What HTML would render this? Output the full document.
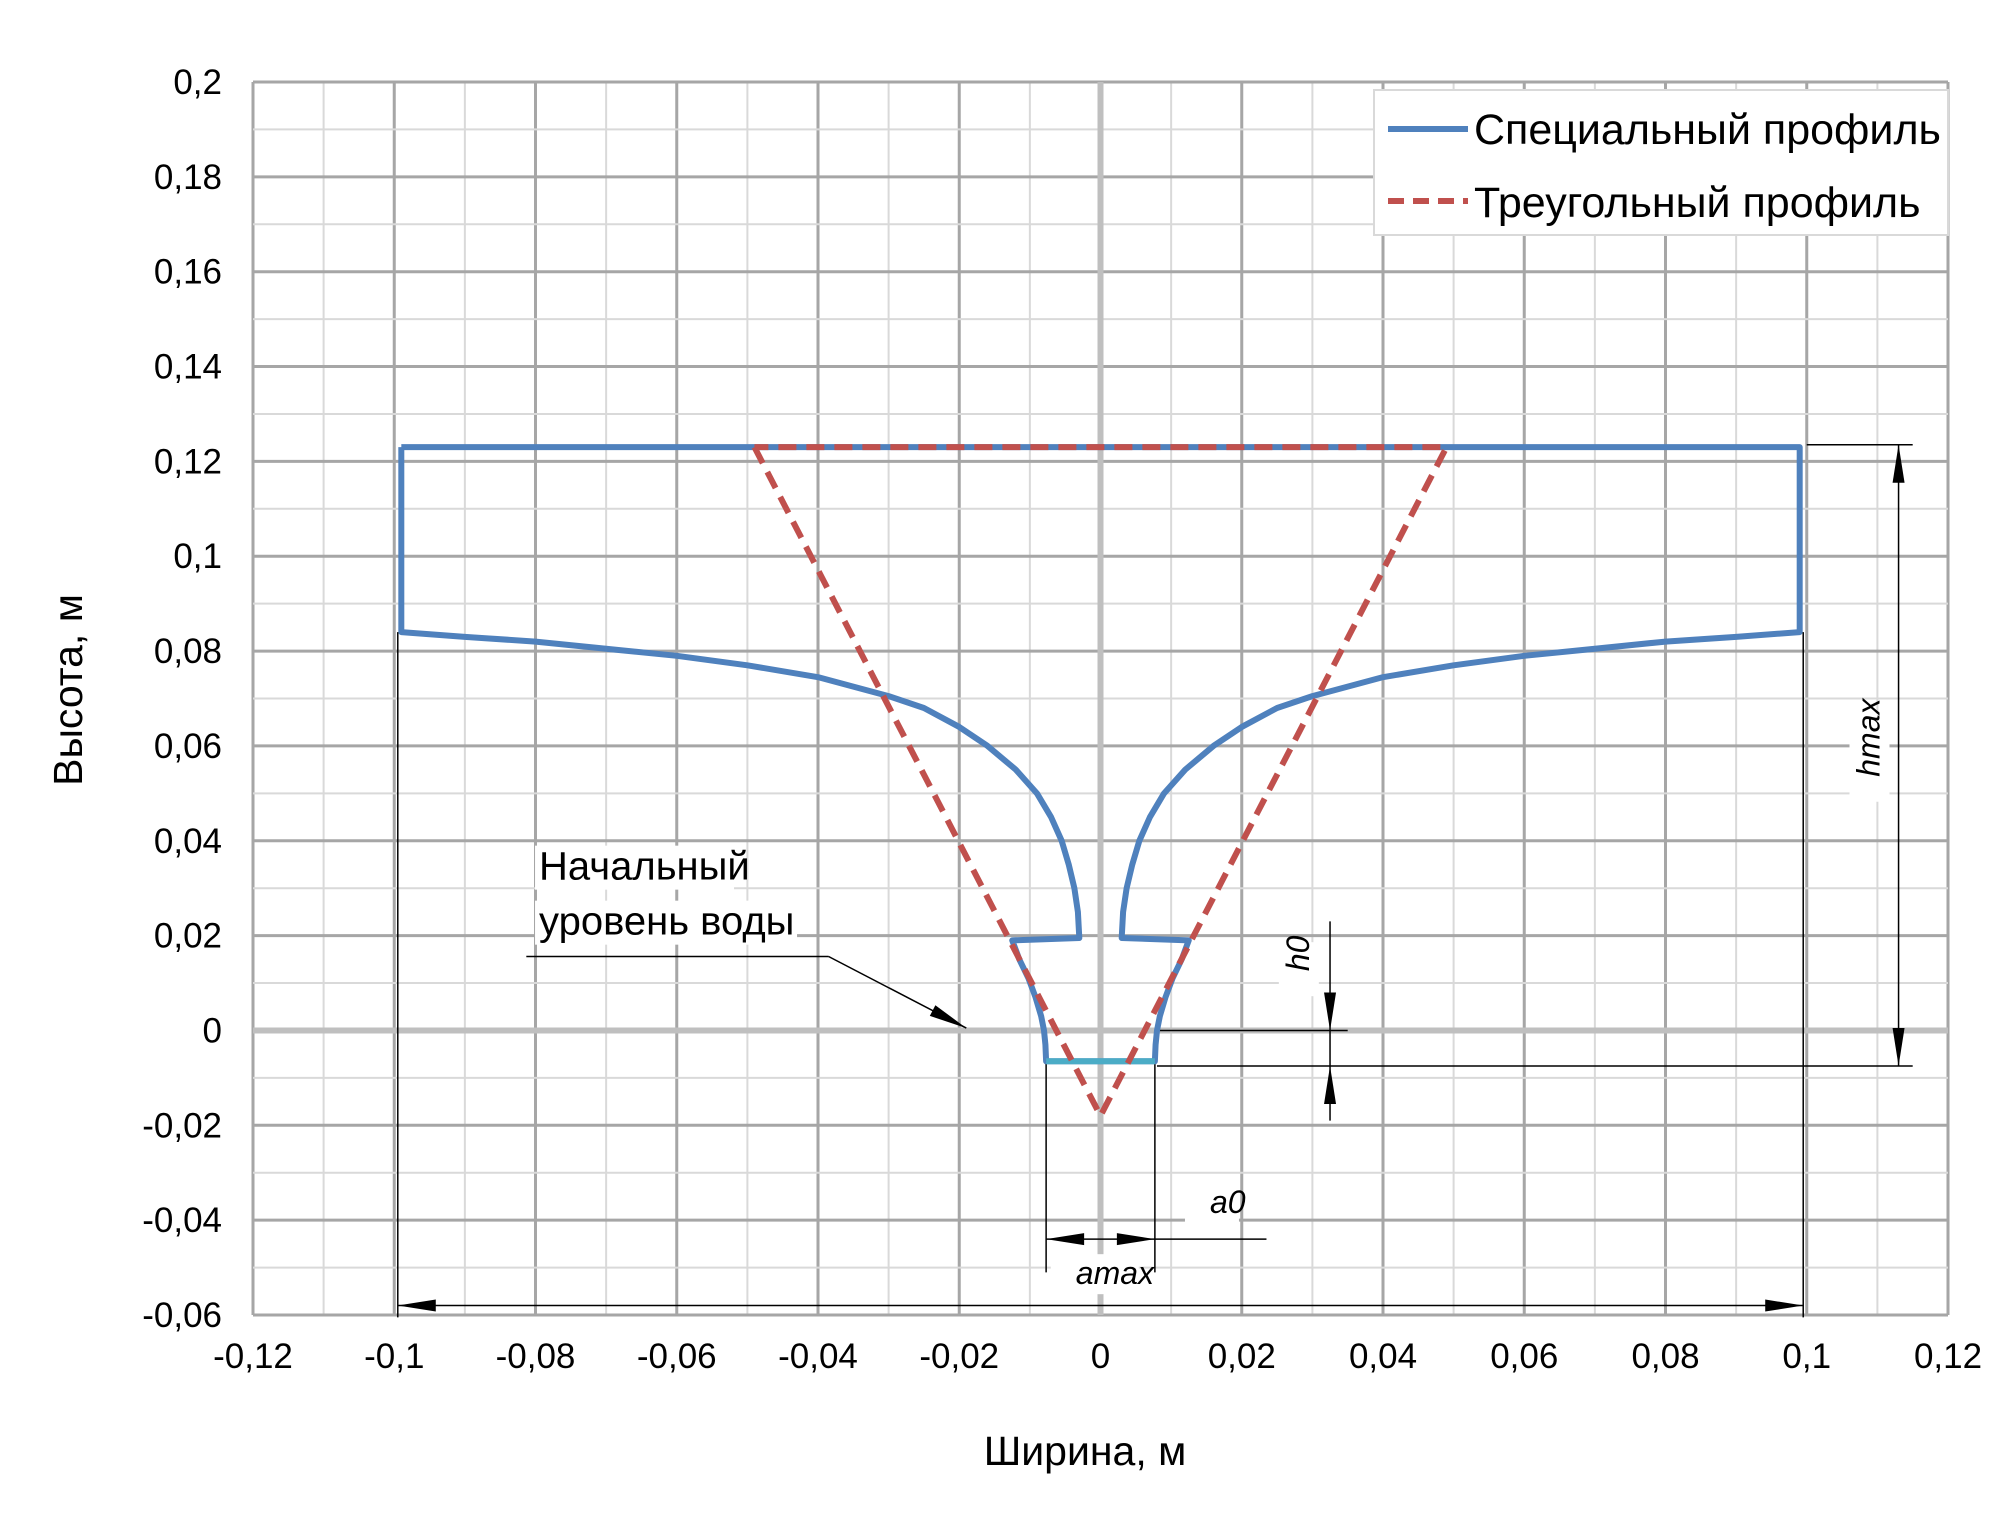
<!DOCTYPE html>
<html><head><meta charset="utf-8"><style>
body{margin:0;background:#fff}
svg{display:block;font-family:"Liberation Sans",sans-serif}
</style></head><body>
<svg id="c" width="2000" height="1530" viewBox="0 0 2000 1530"></svg>
<script>
const xTicks=[-0.12,-0.1,-0.08,-0.06,-0.04,-0.02,0,0.02,0.04,0.06,0.08,0.1,0.12];
const yTicks=[-0.06,-0.04,-0.02,0,0.02,0.04,0.06,0.08,0.1,0.12,0.14,0.16,0.18,0.2];
const specialLeftX=[-0.0077,-0.0078,-0.008,-0.0084,-0.0092,-0.0102,-0.0115,-0.0125,-0.003,-0.0032,-0.0037,-0.0045,-0.0055,-0.007,-0.009,-0.012,-0.016,-0.02,-0.025,-0.03,-0.04,-0.05,-0.06,-0.07,-0.08,-0.09,-0.099,-0.099];
const specialLeftY=[-0.0065,-0.003,0,0.003,0.007,0.011,0.015,0.019,0.0195,0.025,0.030,0.035,0.040,0.045,0.050,0.055,0.060,0.064,0.068,0.0705,0.0745,0.077,0.079,0.0805,0.082,0.083,0.084,0.123];
const triX=[-0.049,0,0.049,-0.049];
const triY=[0.123,-0.018,0.123,0.123];
const waterX=[-0.0077,0.0077];
const waterY=[-0.0065,-0.0065];
const L=253,R=1948,T=82,B=1315;
const X=v=>L+(v+0.12)/0.24*(R-L);
const Y=v=>B-(v+0.06)/0.26*(B-T);
const svg=document.getElementById('c');
const NS='http://www.w3.org/2000/svg';
function mk(tag,a,parent){const e=document.createElementNS(NS,tag);for(const k in a)e.setAttribute(k,a[k]);(parent||svg).appendChild(e);return e;}
for(let i=0;i<=24;i++){const v=-0.12+i*0.01;const e=mk('line',{x1:X(v),x2:X(v),y1:T,y2:B,stroke:i%2?'#d9d9d9':'#a6a6a6','stroke-width':i%2?2:3});

}
for(let i=0;i<=26;i++){const v=-0.06+i*0.01;const e=mk('line',{x1:L,x2:R,y1:Y(v),y2:Y(v),stroke:i%2?'#d9d9d9':'#a6a6a6','stroke-width':i%2?2:3});

}
mk('line',{x1:X(0),x2:X(0),y1:T,y2:B,stroke:'#bfbfbf','stroke-width':6});
mk('line',{x1:L,x2:R,y1:Y(0),y2:Y(0),stroke:'#bfbfbf','stroke-width':6});
xTicks.forEach(v=>{const t=mk('text',{x:X(v),y:B+53,'text-anchor':'middle','font-size':35});t.textContent=String(+v.toFixed(2)).replace('.',',');

});
yTicks.forEach(v=>{const t=mk('text',{x:222,y:Y(v)+12,'text-anchor':'end','font-size':35});t.textContent=String(+v.toFixed(2)).replace('.',',');

});
let t=mk('text',{x:1085,y:1465,'text-anchor':'middle','font-size':41});t.textContent='Ширина, м';


t=mk('text',{x:0,y:0,'text-anchor':'middle','font-size':41,transform:'translate(82,690) rotate(-90)'});t.textContent='Высота, м';


const th={stroke:'#000','stroke-width':1.5,fill:'none'};
function ln(x1,y1,x2,y2){return mk('line',Object.assign({x1:X(x1),y1:Y(y1),x2:X(x2),y2:Y(y2)},th));}
function arrow(x,y,dx,dy){const px=X(x),py=Y(y),l=38,w=6;const a=[px,py,px-dx*l-dy*w,py-dy*l+dx*w,px-dx*l+dy*w,py-dy*l-dx*w];mk('polygon',{points:a.join(' '),fill:'#000'});}
ln(-0.0995,0.084,-0.0995,-0.0605);ln(0.0995,0.084,0.0995,-0.0605);
ln(-0.0995,-0.058,0.0995,-0.058);arrow(-0.0995,-0.058,-1,0);arrow(0.0995,-0.058,1,0);
ln(-0.0077,-0.0065,-0.0077,-0.051);ln(0.0077,-0.0065,0.0077,-0.051);
ln(-0.0077,-0.044,0.0235,-0.044);arrow(-0.0077,-0.044,-1,0);arrow(0.0077,-0.044,1,0);
ln(0.1,0.1235,0.115,0.1235);ln(0.008,-0.0075,0.115,-0.0075);
ln(0.113,0.1235,0.113,-0.0075);arrow(0.113,0.1235,0,-1);arrow(0.113,-0.0075,0,1);
ln(0.008,0,0.035,0);ln(0.0325,0.023,0.0325,-0.019);arrow(0.0325,0,0,1);arrow(0.0325,-0.0075,0,-1);
ln(-0.0813,0.0156,-0.0385,0.0156);ln(-0.0385,0.0156,-0.019,0.0005);
{const px=X(-0.019),py=Y(0.0005);const dx=X(-0.019)-X(-0.0385),dy=Y(0.0005)-Y(0.0156);const n=Math.hypot(dx,dy);const ux=dx/n,uy=dy/n;mk('polygon',{points:[px,py,px-ux*38-uy*6,py-uy*38+ux*6,px-ux*38+uy*6,py-uy*38-ux*6].join(' '),fill:'#000'});}
const lab=[['Начальный',X(-0.0795),Y(0.0318)],['уровень воды',X(-0.0795),Y(0.0202)]];
lab.forEach(l=>{mk('rect',{x:l[1]-4,y:l[2]-34,width:l[0].length*21+10,height:44,fill:'#fff'});const e=mk('text',{x:l[1],y:l[2],'font-size':40});e.textContent=l[0];

});
function itxt(s,x,y,rot){mk('rect',{x:x-25,y:y-30,width:s.length*17+20,height:40,fill:'#fff',transform:rot?`rotate(-90 ${x} ${y})`:''});const e=mk('text',{x:x,y:y,'font-size':32,'font-style':'italic',transform:rot?`rotate(-90 ${x} ${y})`:''});e.textContent=s;

}
itxt('amax',X(-0.0035),Y(-0.0535));
itxt('a0',X(0.0155),Y(-0.0385));
itxt('h0',X(0.0295),Y(0.0125),true);
itxt('hmax',X(0.1103),Y(0.0535),true);
const revX=specialLeftX.slice().reverse(),revY=specialLeftY.slice().reverse();
const spX=revX.concat(specialLeftX.map(v=>-v)).concat([revX[0]]);
const spY=revY.concat(specialLeftY).concat([revY[0]]);
let p=mk('polyline',{points:spX.map((v,i)=>X(v)+','+Y(spY[i])).join(' '),fill:'none',stroke:'#4f81bd','stroke-width':6,'stroke-linejoin':'round'});


p=mk('polyline',{points:waterX.map((v,i)=>X(v)+','+Y(waterY[i])).join(' '),stroke:'#4bacc6','stroke-width':6});


p=mk('polyline',{points:triX.map((v,i)=>X(v)+','+Y(triY[i])).join(' '),fill:'none',stroke:'#c0504d','stroke-width':6,'stroke-dasharray':'18 10'});


const g=mk('g',{});
mk('rect',{x:1374,y:90,width:574,height:145,fill:'#fff',stroke:'#d9d9d9','stroke-width':2},g);
mk('line',{x1:1388,x2:1468,y1:129,y2:129,stroke:'#4f81bd','stroke-width':6},g);
mk('line',{x1:1388,x2:1468,y1:201,y2:201,stroke:'#c0504d','stroke-width':6,'stroke-dasharray':'16 9'},g);
let e=mk('text',{x:1474,y:144,'font-size':43},g);e.textContent='Специальный профиль';


e=mk('text',{x:1474,y:217,'font-size':43},g);e.textContent='Треугольный профиль';


</script>
</body></html>
